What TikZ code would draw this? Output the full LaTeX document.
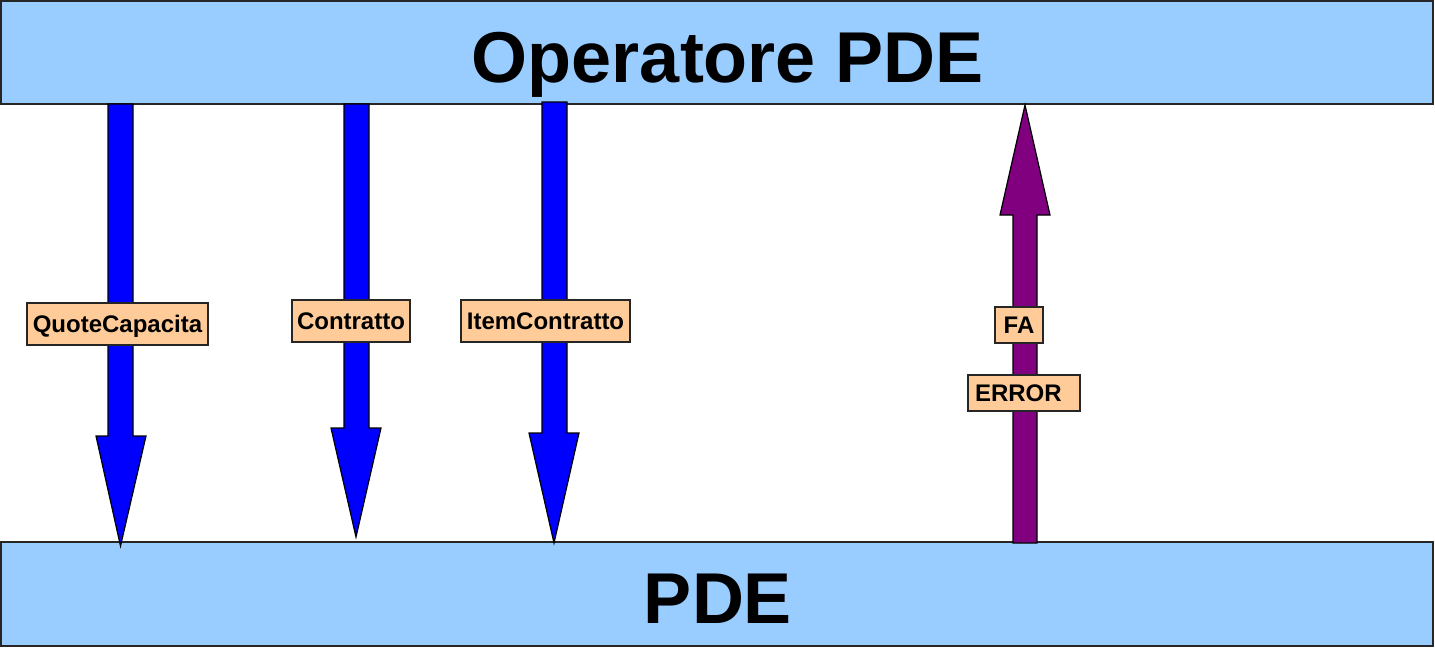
\documentclass[tikz,border=0pt]{standalone}
\usepackage{fontspec}
\setmainfont{Liberation Sans}
\definecolor{boxblue}{HTML}{99CCFF}
\definecolor{lblfill}{HTML}{FFCC99}
\definecolor{arrblue}{HTML}{0000FF}
\definecolor{arrpurple}{HTML}{800080}
\begin{document}
\begin{tikzpicture}[x=1pt,y=-1pt,
  band/.style={draw=black!85,line width=1.6pt,fill=boxblue},
  bigtxt/.style={font=\fontsize{72}{72}\selectfont\bfseries,anchor=base,inner sep=0pt},
  lbl/.style={draw=black!85,line width=1.2pt,fill=lblfill,inner sep=0pt,
    font=\fontsize{24}{24}\selectfont\bfseries,text height=17pt,text depth=0pt},
  blk/.style={draw=black,line width=1.2pt,line join=miter}]
\useasboundingbox (0,0) rectangle (1435,648);
\fill[white] (0,0) rectangle (1435,648);
% bands
\draw[band] (1,1) rectangle (1433,104);
\draw[band] (1,542) rectangle (1433,646);
\node[bigtxt] (top) at (728,82) {Operatore PDE};
\node[bigtxt] (bot) at (718,623) {PDE};
% down arrows
\draw[blk,fill=arrblue] (108,104) -- (133,104) -- (133,436) -- (146,436) -- (120.5,546) -- (96,436) -- (108,436) -- cycle;
\draw[blk,fill=arrblue] (344,104) -- (369,104) -- (369,428) -- (381,428) -- (356,537) -- (331,428) -- (344,428) -- cycle;
\draw[blk,fill=arrblue] (542,102) -- (567,102) -- (567,433) -- (579,433) -- (554,543) -- (529,433) -- (542,433) -- cycle;
% up arrow
\draw[blk,fill=arrpurple] (1013,543) -- (1037,543) -- (1037,215) -- (1050,215) -- (1025,105) -- (1000,215) -- (1013,215) -- cycle;
% labels
\node[lbl,minimum width=181pt,minimum height=42pt] (qc) at (117.5,324) {QuoteCapacita};
\node[lbl,minimum width=118pt,minimum height=42pt] (co) at (351,321) {Contratto};
\node[lbl,minimum width=169pt,minimum height=42pt] (ic) at (545.5,321) {ItemContratto};
\node[lbl,minimum width=48pt,minimum height=36pt] (fa) at (1019,325) {FA};
\node[lbl,minimum width=112pt,minimum height=36pt,text width=112pt,align=left] (er) at (1024,393) {\hspace*{7pt}ERROR};
\end{tikzpicture}
\end{document}
